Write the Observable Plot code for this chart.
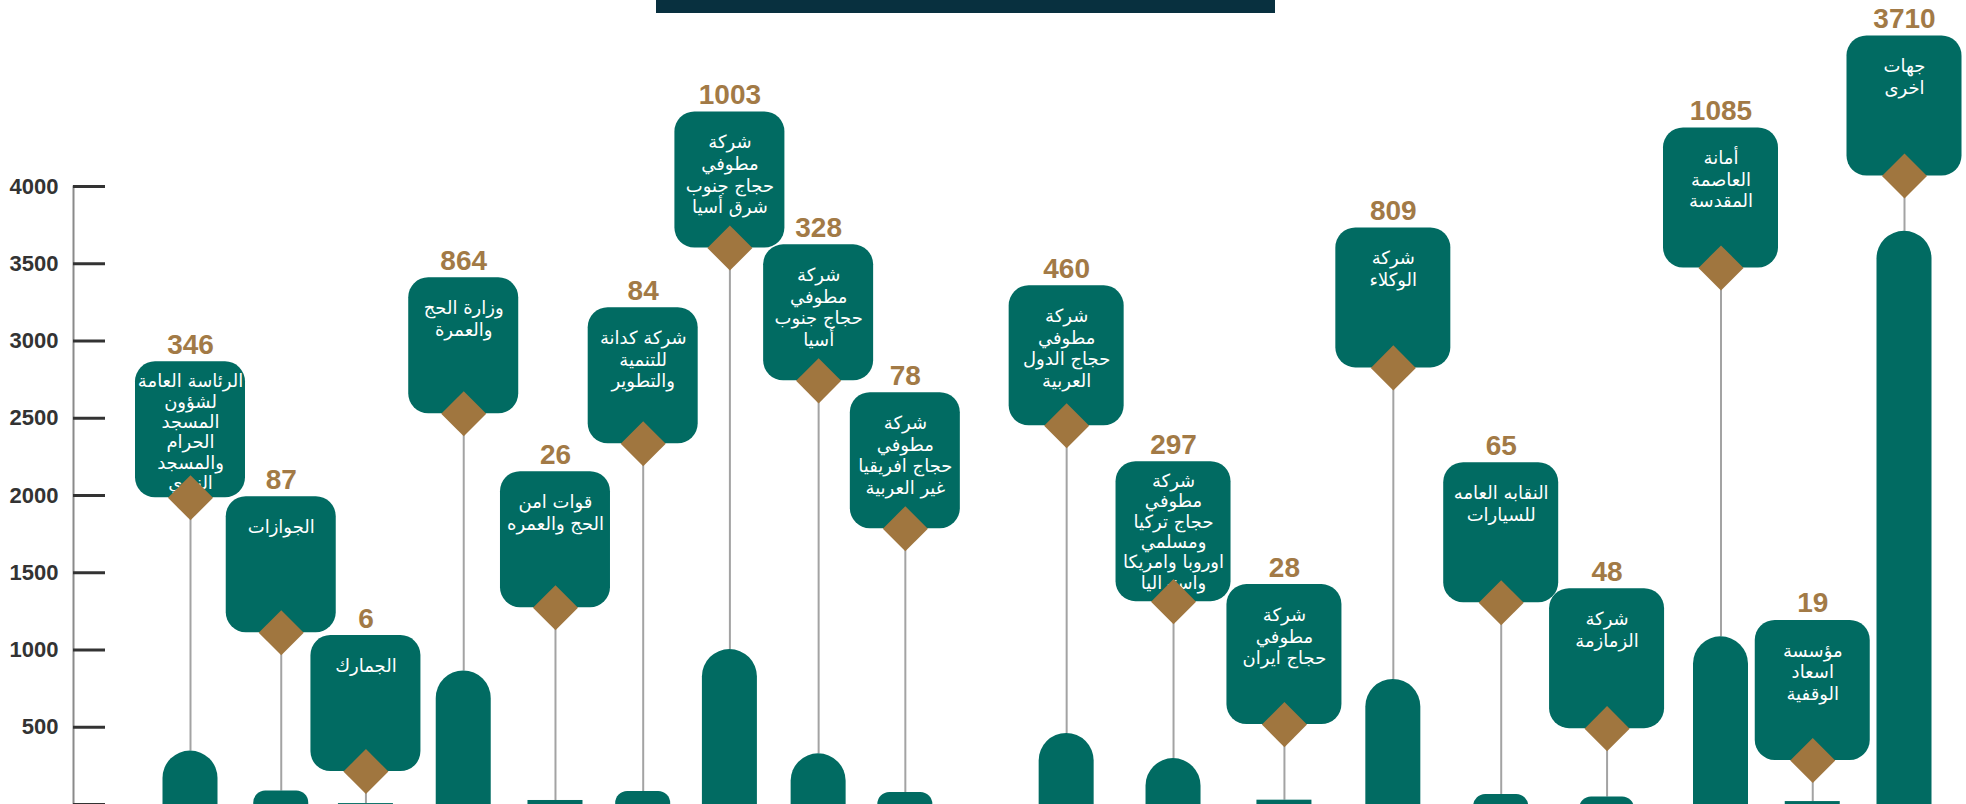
<!DOCTYPE html>
<html>
<head>
<meta charset="utf-8">
<script src="https://cdn.jsdelivr.net/npm/d3@7"></script>
<script src="https://cdn.jsdelivr.net/npm/@observablehq/plot@0.6"></script>
<style>
  html, body { margin: 0; padding: 0; background: #ffffff; }
  #wrap { position: relative; width: 1966px; height: 804px; overflow: hidden; }
  #titlebar { position: absolute; left: 656px; top: 0; width: 619px; height: 13px; background: #08303f; }
</style>
</head>
<body>
<div id="wrap">
  <div id="chart"></div>
  <div id="titlebar"></div>
</div>
<script>
// ---- data ----
const entities = [
  "الرئاسة العامة\nلشؤون\nالمسجد\nالحرام\nوالمسجد\nالنبوي",
  "الجوازات",
  "الجمارك",
  "وزارة الحج\nوالعمرة",
  "قوات امن\nالحج والعمره",
  "شركة كدانة\nللتنمية\nوالتطوير",
  "شركة\nمطوفي\nحجاج جنوب\nشرق أسيا",
  "شركة\nمطوفي\nحجاج جنوب\nأسيا",
  "شركة\nمطوفي\nحجاج افريقيا\nغير العربية",
  "شركة\nمطوفي\nحجاج الدول\nالعربية",
  "شركة\nمطوفي\nحجاج تركيا\nومسلمي\nاوروبا وامريكا\nواستراليا",
  "شركة\nمطوفي\nحجاج ايران",
  "شركة\nالوكلاء",
  "النقابه العامه\nللسيارات",
  "شركة\nالزمازمة",
  "أمانة\nالعاصمة\nالمقدسة",
  "مؤسسة\nاسعاد\nالوقفية",
  "جهات\nاخرى"
];
const counts = [346, 87, 6, 864, 26, 84, 1003, 328, 78, 460, 297, 28, 809, 65, 48, 1085, 19, 3710];
const yTicks = [0, 500, 1000, 1500, 2000, 2500, 3000, 3500, 4000];
const yTickLabels = ["", "500", "1000", "1500", "2000", "2500", "3000", "3500", "4000"];

// ---- layout of the infographic (column slot and callout height, in scale units) ----
const columnSlot = [0, 0.90, 1.74, 2.71, 3.62, 4.49, 5.35, 6.23, 7.09, 8.69, 9.75, 10.85, 11.93, 13.00, 14.05, 15.18, 16.09, 17];
const calloutLevel = [1985, 1112, 213, 2529, 1274, 2335, 3602, 2742, 1785, 2451, 1313, 517, 2826, 1306, 491, 3473, 285, 4068];

const rows = entities.map((name, i) => ({
  name, value: counts[i], slot: columnSlot[i], level: calloutLevel[i],
  lines: name.split("\n").length, group: i < 9 ? 0 : 1
}));

const TEAL = "#016b62";
const GOLD = "#a0763f";
const LABEL = "#a27a46";
const BAR_W = 55;
const BOX = [{ w: 110, h: 136 }, { w: 115, h: 140 }];

const tall = rows.filter(d => d.value >= 150);
const stub = rows.filter(d => d.value >= 40 && d.value < 150);
const tiny = rows.filter(d => d.value < 40);

const boxMarks = BOX.flatMap((b, g) => {
  const sel = rows.filter(d => d.group === g);
  const shortText = sel.filter(d => d.lines <= 4);
  const longText = sel.filter(d => d.lines > 4);
  return [
    Plot.rect(sel, {
      x1: "slot", x2: "slot", y1: "level", y2: "level",
      insetLeft: -b.w / 2, insetRight: -b.w / 2, insetTop: -b.h,
      rx: 20, fill: TEAL
    }),
    Plot.text(shortText, {
      x: "slot", y: "level", text: "name",
      dy: -b.h + 21, lineAnchor: "top", lineHeight: 1.2,
      fill: "#ffffff", fontSize: 18, fontFamily: "DejaVu Sans, sans-serif"
    }),
    Plot.text(longText, {
      x: "slot", y: "level", text: "name",
      dy: -b.h + 11, lineAnchor: "top", lineHeight: 1.13,
      fill: "#ffffff", fontSize: 18, fontFamily: "DejaVu Sans, sans-serif"
    }),
    Plot.text(sel, {
      x: "slot", y: "level", text: (d) => String(d.value),
      dy: -b.h - 17,
      fill: LABEL, fontSize: 28, fontWeight: "bold",
      fontFamily: "Liberation Sans, Arial, sans-serif"
    })
  ];
});

const chart = Plot.plot({
  width: 1966,
  height: 804,
  marginTop: 186,
  marginBottom: 0,
  marginLeft: 73,
  marginRight: 0,
  style: { background: "transparent", overflow: "visible" },
  x: { domain: [0, 17], range: [190, 1904], axis: null },
  y: { domain: [0, 4000], axis: null },
  marks: [
    Plot.frame({ anchor: "left", stroke: "#8a8a8a", strokeWidth: 2 }),
    Plot.axisY({
      ticks: yTicks,
      tickFormat: (d) => yTickLabels[yTicks.indexOf(d)],
      tickSize: 32,
      dx: 32,
      tickPadding: 15,
      stroke: "#333333",
      strokeWidth: 3,
      fill: "#333333",
      fontSize: 22,
      fontWeight: "bold",
      fontFamily: "Liberation Sans, Arial, sans-serif",
      label: null
    }),
    // stems
    Plot.ruleX(rows, { x: "slot", y1: "value", y2: "level", stroke: "#a3a3a3", strokeWidth: 2 }),
    // bars
    Plot.rect(tall, {
      x1: "slot", x2: "slot", y1: 0, y2: "value",
      insetLeft: -BAR_W / 2, insetRight: -BAR_W / 2, insetBottom: -40,
      rx: BAR_W / 2, fill: TEAL
    }),
    Plot.rect(stub, {
      x1: "slot", x2: "slot", y1: 0, y2: "value",
      insetLeft: -BAR_W / 2, insetRight: -BAR_W / 2, insetBottom: -20,
      rx: 12, fill: TEAL
    }),
    Plot.rect(tiny, {
      x1: "slot", x2: "slot", y1: 0, y2: "value",
      insetLeft: -BAR_W / 2, insetRight: -BAR_W / 2,
      fill: TEAL
    }),
    // callout boxes, texts and value labels
    ...boxMarks,
    // diamonds
    Plot.dot(rows, { x: "slot", y: "level", symbol: "diamond2", r: 20.3, fill: GOLD, stroke: null })
  ]
});
document.getElementById("chart").appendChild(chart);
</script>
</body>
</html>
